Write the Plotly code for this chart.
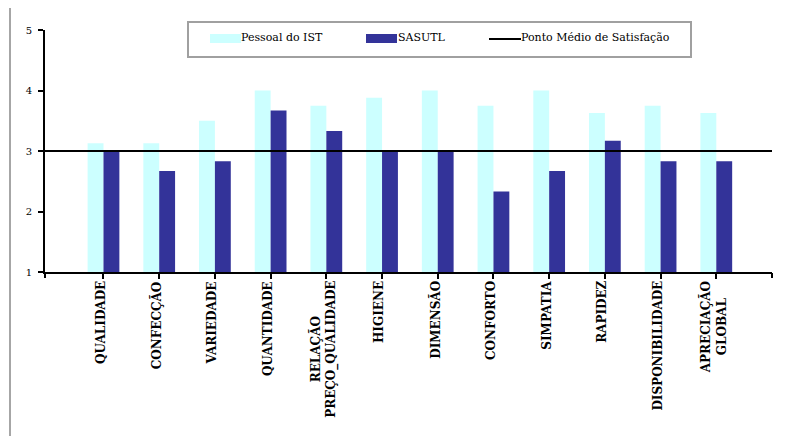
import plotly.graph_objects as go

# Dados
categorias = ['QUALIDADE', 'CONFECÇÃO', 'VARIEDADE', 'QUANTIDADE',
              'RELAÇÃO<br>PREÇO_QUALIDADE', 'HIGIENE', 'DIMENSÃO', 'CONFORTO',
              'SIMPATIA', 'RAPIDEZ', 'DISPONIBILIDADE', 'APRECIAÇÃO<br>GLOBAL']
pessoal_ist = [3.13, 3.13, 3.5, 4.0, 3.75, 3.88, 4.0, 3.75, 4.0, 3.63, 3.75, 3.63]
sasutl = [3.0, 2.67, 2.83, 3.67, 3.33, 3.0, 3.0, 2.33, 2.67, 3.17, 2.83, 2.83]
ponto_medio = [3, 3]
ponto_medio_x = [0, 1]
y_ticks = [1, 2, 3, 4, 5]

COR_IST = '#CCFFFF'
COR_SAS = '#333399'
FONTE = 'DejaVu Serif'

# a página tem 8px de margem no body: tudo é medido na janela e deslocado
OFF = 8
W, H = 795 - OFF, 436 - OFF
PL, PR, PT, PB = 45 - OFF, 772 - OFF, 30 - OFF, 272 - OFF


def px_x(p):
    return (p - OFF - PL) / (PR - PL)


def px_y(p):
    return (PB - (p - OFF)) / (PB - PT)


fig = go.Figure()

fig.add_trace(go.Bar(x=categorias, y=pessoal_ist, name='Pessoal do IST',
                     marker=dict(color=COR_IST, line=dict(width=0)), base=0))
fig.add_trace(go.Bar(x=categorias, y=sasutl, name='SASUTL',
                     marker=dict(color=COR_SAS, line=dict(width=0)), base=0))
# linha do ponto médio num eixo secundário para ocupar toda a largura
fig.add_trace(go.Scatter(x=ponto_medio_x, y=ponto_medio, xaxis='x2', mode='lines',
                         name='Ponto Médio de Satisfação',
                         line=dict(color='black', width=2)))

# rótulos das categorias (centrados, rodados)
for c in categorias:
    fig.add_annotation(x=c, xref='x', y=px_y(279), yref='paper',
                       text=f'<b>{c}</b>', textangle=-90, showarrow=False,
                       xanchor='center', yanchor='top', align='center',
                       xshift=-3,
                       font=dict(family=FONTE, size=12, color='black'))

# legenda desenhada à mão (caixa + amostras)
fig.add_shape(type='rect', xref='paper', yref='paper',
              x0=px_x(188), x1=px_x(691), y0=px_y(57), y1=px_y(22),
              line=dict(color='#a0a0a0', width=2), fillcolor='white', layer='above')
fig.add_shape(type='rect', xref='paper', yref='paper',
              x0=px_x(210), x1=px_x(241), y0=px_y(43), y1=px_y(34),
              line=dict(width=0), fillcolor=COR_IST, layer='above')
fig.add_shape(type='rect', xref='paper', yref='paper',
              x0=px_x(366), x1=px_x(397), y0=px_y(43), y1=px_y(34),
              line=dict(width=0), fillcolor=COR_SAS, layer='above')
fig.add_shape(type='line', xref='paper', yref='paper',
              x0=px_x(489), x1=px_x(521), y0=px_y(39), y1=px_y(39),
              line=dict(color='black', width=2), layer='above')
for texto, xp in [('Pessoal do IST', 242), ('SASUTL', 399), ('Ponto Médio de Satisfação', 522)]:
    fig.add_annotation(x=px_x(xp), y=px_y(37), xref='paper', yref='paper',
                       text=texto, showarrow=False, xanchor='left', yanchor='middle',
                       xshift=-3,
                       font=dict(family=FONTE, size=11, color='black'))

# moldura exterior
fig.add_shape(type='rect', xref='paper', yref='paper',
              x0=px_x(10), x1=px_x(900), y0=px_y(600), y1=px_y(6),
              line=dict(color='#a6a6a6', width=2), layer='below')

fig.update_layout(
    width=W, height=H,
    margin=dict(l=PL, r=W - PR, t=PT, b=H - PB),
    paper_bgcolor='white', plot_bgcolor='white',
    barmode='group', bargap=0.43, bargroupgap=0,
    showlegend=False,
    font=dict(family=FONTE, size=10, color='black'),
    xaxis=dict(range=[-1.05, 12.0], showticklabels=False, showline=True,
               linecolor='black', linewidth=2, ticks='outside', ticklen=5,
               tickwidth=2, tickcolor='black', showgrid=False, zeroline=False),
    xaxis2=dict(range=[0, 1], overlaying='x', side='bottom', anchor='y',
                tickvals=ponto_medio_x, ticks='outside', ticklen=5, tickwidth=2,
                tickcolor='black', showticklabels=False, showgrid=False,
                zeroline=False, showline=False),
    yaxis=dict(range=[1, 5], tickvals=y_ticks, showline=True, linecolor='black',
               linewidth=2, ticks='outside', ticklen=5, tickwidth=2,
               tickcolor='black', showgrid=False, zeroline=False,
               ticklabelstandoff=4, tickfont=dict(family=FONTE, size=10)),
)

fig.write_html('out.html')
